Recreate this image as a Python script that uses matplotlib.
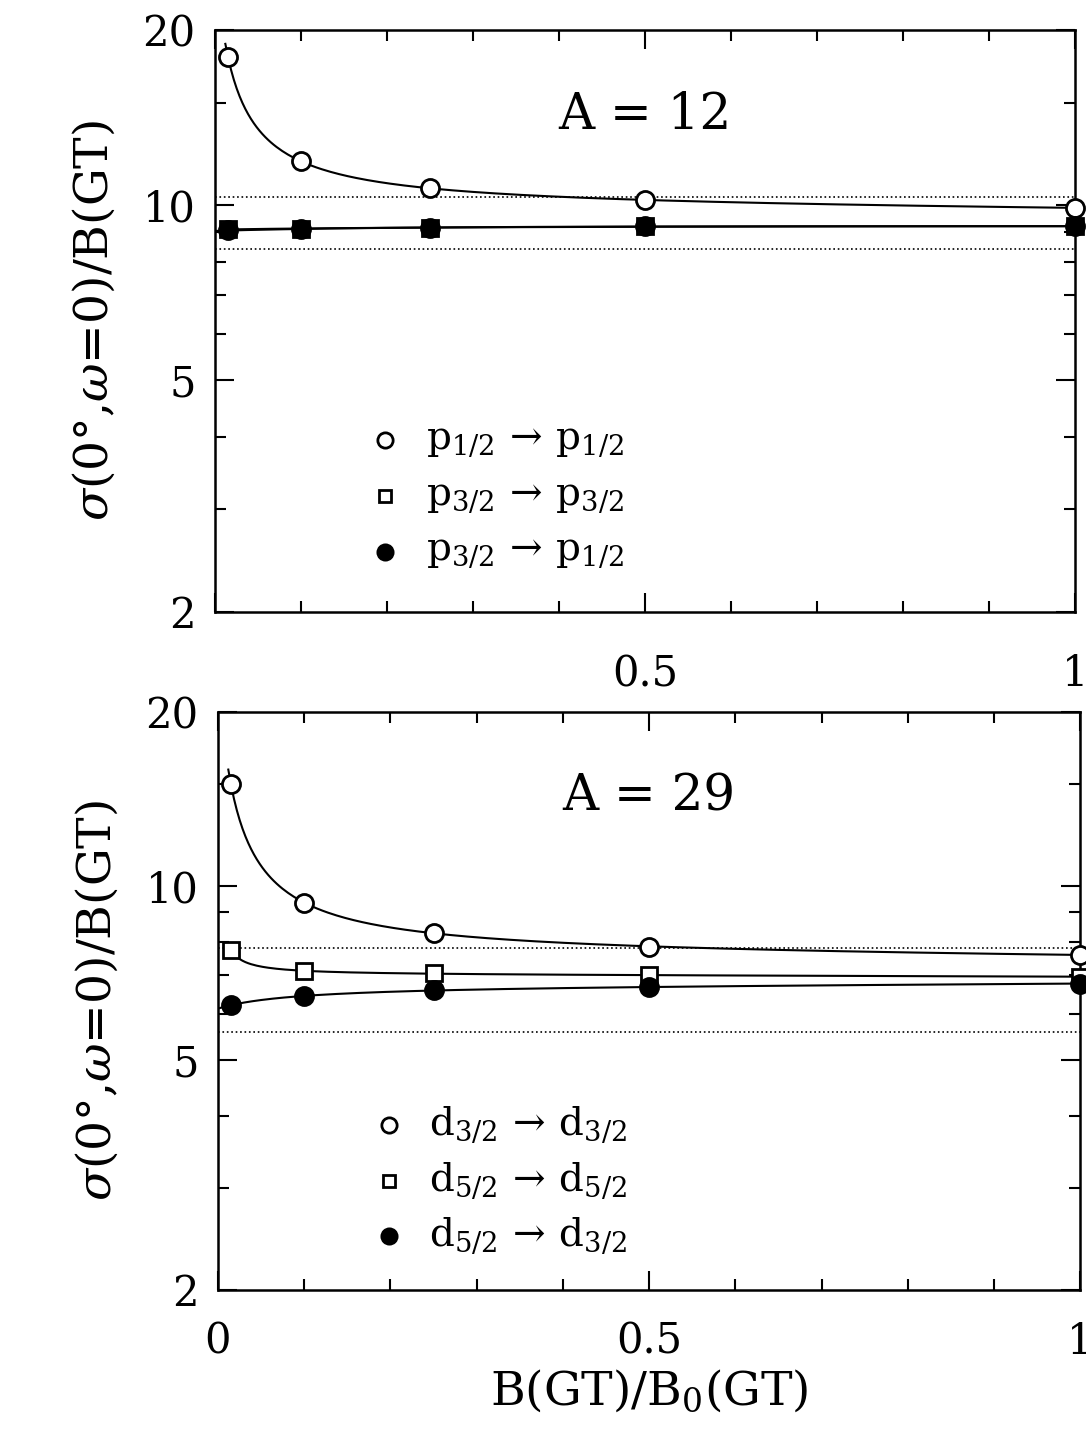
import numpy as np
import matplotlib
matplotlib.use("Agg")
import matplotlib.pyplot as plt
from matplotlib.ticker import FixedLocator, MultipleLocator, NullFormatter

plt.rcParams['font.family'] = ['DejaVu Serif']
plt.rcParams['mathtext.fontset'] = 'dejavuserif'

x_pts = [0.015, 0.1, 0.25, 0.5, 1.0]
a12_p12_p12 = [18.0, 11.9, 10.7, 10.2, 9.9]
a12_p32_p32 = [9.1, 9.1, 9.15, 9.2, 9.2]
a12_p32_p12 = [9.05, 9.1, 9.15, 9.2, 9.2]
a29_d32_d32 = [15.0, 9.35, 8.3, 7.85, 7.6]
a29_d52_d52 = [7.75, 7.13, 7.06, 7.0, 6.97]
a29_d52_d32 = [6.22, 6.45, 6.6, 6.68, 6.78]
dotted12 = [10.35, 8.4]
dotted29 = [7.8, 5.6]

def fitcurve(x, y):
    x = np.asarray(x); y = np.asarray(y)
    best = None
    for c in np.linspace(0.002, 0.3, 300):
        A = np.vstack([np.ones_like(x), 1/(x+c), x]).T
        coef, *_ = np.linalg.lstsq(A, y, rcond=None)
        r = np.sum((A @ coef - y)**2)
        if best is None or r < best[0]:
            best = (r, c, coef)
    _, c, coef = best
    xx = np.linspace(0.0 if y[0] < y[1] else 0.012, 1.0, 300)
    return xx, coef[0] + coef[1]/(xx+c) + coef[2]*xx

fig = plt.figure(figsize=(10.86, 14.36), dpi=100)
ax1 = fig.add_axes([0.198, 0.574, 0.792, 0.405])
ax2 = fig.add_axes([0.2007, 0.1017, 0.794, 0.4025])

def style(ax, xlabels):
    ax.set_yscale('log')
    ax.set_ylim(2, 20)
    ax.set_xlim(0, 1)
    ax.yaxis.set_major_locator(FixedLocator([2, 5, 10, 20]))
    ax.yaxis.set_minor_locator(FixedLocator([3, 4, 6, 7, 8, 9, 15]))
    ax.yaxis.set_minor_formatter(NullFormatter())
    ax.set_yticklabels(['2', '5', '10', '20'])
    ax.xaxis.set_major_locator(FixedLocator([0, 0.5, 1]))
    ax.xaxis.set_minor_locator(MultipleLocator(0.1))
    ax.set_xticklabels(xlabels)
    ax.tick_params(which='both', direction='in', top=True, right=True, labelsize=30, width=1.5)
    ax.tick_params(which='major', length=14)
    ax.tick_params(which='minor', length=8)
    ax.tick_params(axis='y', pad=14)
    for s in ax.spines.values():
        s.set_linewidth(1.8)
    ax.set_ylabel(r'$\sigma$(0°,$\omega$=0)/B(GT)', fontsize=34, labelpad=18)

style(ax1, ['', '0.5', '1'])
style(ax2, ['0', '0.5', '1'])
ax1.tick_params(axis='x', pad=30)
ax2.tick_params(axis='x', pad=22)

for ax, series, markers, labels, dots, title, ly in [
    (ax1, [a12_p12_p12, a12_p32_p32, a12_p32_p12], ['o', 's', 'o'],
     [r'$\mathrm{p}_{1/2}\,\rightarrow\,\mathrm{p}_{1/2}$', r'$\mathrm{p}_{3/2}\,\rightarrow\,\mathrm{p}_{3/2}$', r'$\mathrm{p}_{3/2}\,\rightarrow\,\mathrm{p}_{1/2}$'],
     dotted12, 'A = 12', 0.295),
    (ax2, [a29_d32_d32, a29_d52_d52, a29_d52_d32], ['o', 's', 'o'],
     [r'$\mathrm{d}_{3/2}\,\rightarrow\,\mathrm{d}_{3/2}$', r'$\mathrm{d}_{5/2}\,\rightarrow\,\mathrm{d}_{5/2}$', r'$\mathrm{d}_{5/2}\,\rightarrow\,\mathrm{d}_{3/2}$'],
     dotted29, 'A = 29', 0.285)]:
    for d in dots:
        ax.axhline(d, color='black', ls=':', lw=1.2)
    fills = ['white', 'white', 'black']
    for s, m, f in zip(series, markers, fills):
        xx, yy = fitcurve(x_pts, s)
        ax.plot(xx, yy, color='black', lw=1.5, zorder=2)
        ax.plot(x_pts, s, ls='none', marker=m, ms=13 if m == 'o' else 11, mfc=f, mec='black', mew=2, zorder=3, clip_on=False)
    ax.text(0.5, 0.83, title, transform=ax.transAxes, ha='center', fontsize=36)
    for i, (m, f, lab) in enumerate(zip(markers, fills, labels)):
        yy = ly - i*0.096
        ax.plot([0.198], [yy], transform=ax.transAxes, marker=m, ms=11 if m == 'o' else 9, mfc=f, mec='black', mew=2, ls='none')
        ax.text(0.245, yy, lab, transform=ax.transAxes, va='center', fontsize=28)

ax2.set_xlabel(r'B(GT)/B$_0$(GT)', fontsize=34)
fig.savefig('out.png', dpi=100)
